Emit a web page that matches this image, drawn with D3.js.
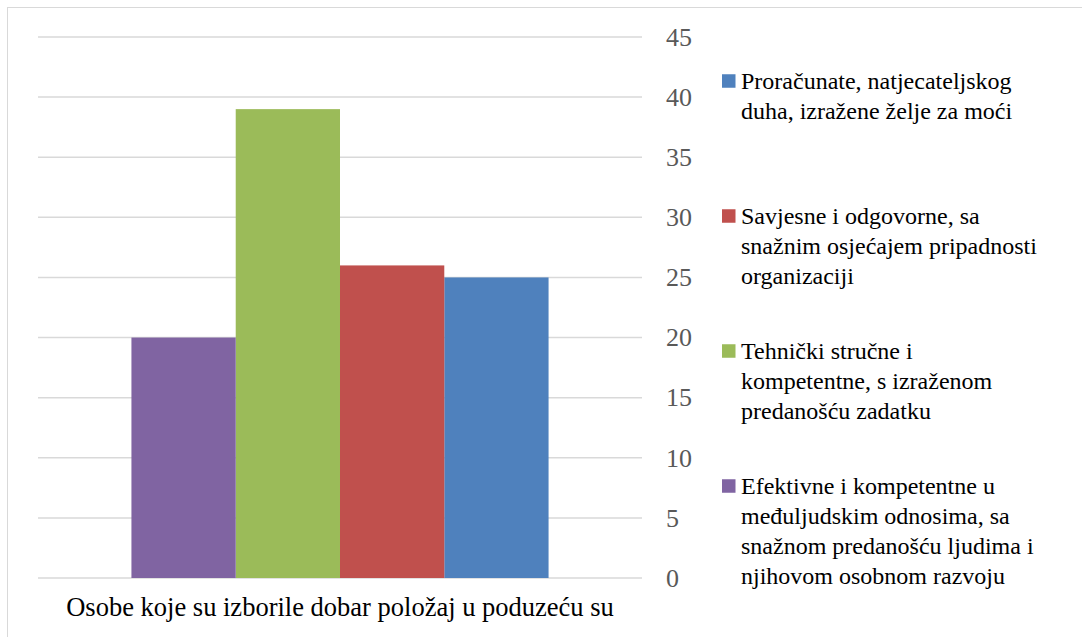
<!DOCTYPE html>
<html>
<head>
<meta charset="utf-8">
<script src="https://cdn.jsdelivr.net/npm/d3@7"></script>
<style>
  html, body { margin: 0; padding: 0; background: #fff; }
  svg { display: block; }
</style>
</head>
<body>
<svg id="chart" width="1082" height="637"></svg>
<script>
// Data
const categories = ["Osobe koje su izborile dobar položaj u poduzeću su"];
const seriesNames = [
  "Proračunate, natjecateljskog duha, izražene želje za moći",
  "Savjesne i odgovorne, sa snažnim osjećajem pripadnosti organizaciji",
  "Tehnički stručne i kompetentne, s izraženom predanošću zadatku",
  "Efektivne i kompetentne u međuljudskim odnosima, sa snažnom predanošću ljudima i njihovom osobnom razvoju"
];
const legendLines = [
  ["Proračunate, natjecateljskog", "duha, izražene želje za moći"],
  ["Savjesne i odgovorne, sa", "snažnim osjećajem pripadnosti", "organizaciji"],
  ["Tehnički stručne i", "kompetentne, s izraženom", "predanošću zadatku"],
  ["Efektivne i kompetentne u", "međuljudskim odnosima, sa", "snažnom predanošću ljudima i", "njihovom osobnom razvoju"]
];
const seriesValues = [25, 26, 39, 20];
const seriesColors = ["#4F81BD", "#C0504D", "#9BBB59", "#8064A2"];
const yTicks = [0, 5, 10, 15, 20, 25, 30, 35, 40, 45];

const FONT = "Liberation Serif";

const svg = d3.select("#chart");

// Chart area frame (runs past the right and bottom edges)
svg.append("rect")
  .attr("x", 7.5).attr("y", 7.5)
  .attr("width", 1100).attr("height", 660)
  .attr("fill", "#fff")
  .attr("stroke", "#D9D9D9")
  .attr("stroke-width", 1);

const plot = { left: 38, right: 642, top: 37, bottom: 578 };

const y = d3.scaleLinear().domain([0, 45]).range([plot.bottom, plot.top]);

// Category axis drawn in reverse order
const x0 = d3.scaleBand()
  .domain(categories)
  .range([plot.left, plot.right])
  .paddingOuter(0.224)
  .paddingInner(0);

const x1 = d3.scaleBand()
  .domain(seriesNames.slice().reverse())
  .range([0, x0.bandwidth()]);

// Gridlines
svg.append("g")
  .selectAll("line")
  .data(yTicks)
  .join("line")
  .attr("x1", plot.left).attr("x2", plot.right)
  .attr("y1", d => y(d)).attr("y2", d => y(d))
  .attr("stroke", "#D9D9D9")
  .attr("stroke-width", 1.5);

// Bars
const bars = seriesNames.map((name, i) => ({ name, value: seriesValues[i], color: seriesColors[i] }));
svg.append("g")
  .selectAll("rect")
  .data(bars)
  .join("rect")
  .attr("x", d => x0(categories[0]) + x1(d.name))
  .attr("width", x1.bandwidth())
  .attr("y", d => y(d.value))
  .attr("height", d => y(0) - y(d.value))
  .attr("fill", d => d.color);

// Value axis on the right
const yAxis = d3.axisRight(y).tickValues(yTicks).tickSize(0).tickPadding(24);
const yg = svg.append("g")
  .attr("transform", `translate(${plot.right},0)`)
  .call(yAxis)
  .attr("font-family", FONT)
  .attr("font-size", 26);
yg.select(".domain").remove();
yg.selectAll("text").attr("fill", "#595959");

// Category label
svg.append("text")
  .attr("x", x0(categories[0]) + x0.bandwidth() / 2)
  .attr("y", 616)
  .attr("text-anchor", "middle")
  .attr("fill", "#000")
  .attr("font-family", FONT)
  .attr("font-size", 26.5)
  .text(categories[0]);

// Legend
const legend = svg.append("g").attr("transform", "translate(722,0)");
const entryTop = 81, entryStep = 135, lineH = 30, markerSize = 13.5;
const items = legend.selectAll("g")
  .data(bars)
  .join("g")
  .attr("transform", (d, i) => `translate(0,${entryTop + i * entryStep})`);
items.append("rect")
  .attr("x", 0).attr("y", -markerSize / 2)
  .attr("width", markerSize).attr("height", markerSize)
  .attr("fill", d => d.color);
items.each(function(d, i) {
  const t = d3.select(this).append("text")
    .attr("x", 19)
    .attr("y", 8)
    .attr("fill", "#000")
    .attr("font-family", FONT)
    .attr("font-size", 24);
  t.selectAll("tspan")
    .data(legendLines[i])
    .join("tspan")
    .attr("x", 19)
    .attr("dy", (s, j) => j === 0 ? 0 : lineH)
    .text(s => s);
});
</script>
</body>
</html>
